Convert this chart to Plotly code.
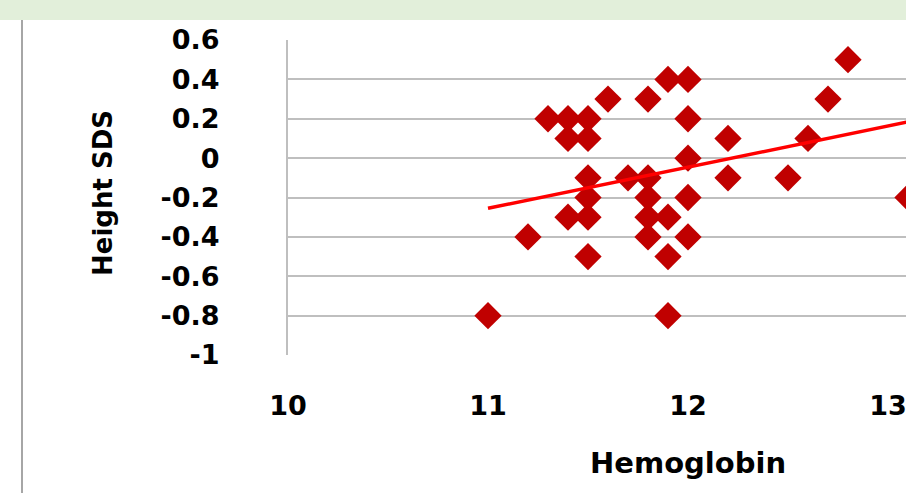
import plotly.graph_objects as go

# Data
hemoglobin = [11.0, 11.2, 11.3, 11.4, 11.5, 11.4, 11.5, 11.6, 11.5, 11.5,
              11.4, 11.5, 11.5, 11.8, 11.9, 12.0, 12.0, 12.2, 12.0, 11.7,
              11.8, 12.2, 12.5, 12.6, 12.7, 12.8, 11.8, 12.0, 11.8, 11.9,
              11.8, 12.0, 11.9, 11.9, 13.1]
height_sds = [-0.8, -0.4, 0.2, 0.2, 0.2, 0.1, 0.1, 0.3, -0.1, -0.2,
              -0.3, -0.3, -0.5, 0.3, 0.4, 0.4, 0.2, 0.1, 0.0, -0.1,
              -0.1, -0.1, -0.1, 0.1, 0.3, 0.5, -0.2, -0.2, -0.3, -0.3,
              -0.4, -0.4, -0.5, -0.8, -0.2]
trend_x = [11.0, 13.1]
trend_y = [-0.255, 0.184]
y_ticks = [0.6, 0.4, 0.2, 0, -0.2, -0.4, -0.6, -0.8, -1]
y_tick_labels = ["0.6", "0.4", "0.2", "0", "-0.2", "-0.4", "-0.6", "-0.8", "-1"]
x_ticks = [10, 11, 12, 13]
x_tick_labels = ["10", "11", "12", "13"]

W, H = 906, 493
ML, MR, MT, MB = 288, 0, 40, 138
pw, ph = W - ML - MR, H - MT - MB

FONT = "DejaVu Sans"
grid_col = "#BFBFBF"

fig = go.Figure()
fig.add_trace(go.Scatter(
    x=hemoglobin, y=height_sds, mode="markers",
    marker=dict(symbol="diamond", size=21, color="#C00000", line=dict(width=0)),
    showlegend=False, hoverinfo="x+y"))
fig.add_trace(go.Scatter(
    x=trend_x, y=trend_y, mode="lines",
    line=dict(color="#FF0000", width=3.5),
    showlegend=False, hoverinfo="skip"))

def px_x(p):
    return (p - ML) / pw

def px_y(p):
    return 1 - (p - MT) / ph

fig.update_layout(
    width=W, height=H,
    margin=dict(l=ML, r=MR, t=MT, b=MB, pad=0),
    paper_bgcolor="white", plot_bgcolor="white",
    font=dict(family=FONT, color="black"),
    xaxis=dict(range=[10, 13.09], tickvals=x_ticks, ticktext=x_tick_labels,
               showgrid=False, zeroline=False, showline=False,
               ticks="outside", ticklen=27, tickcolor="rgba(0,0,0,0)",
               ticklabeloverflow="allow",
               tickfont=dict(family=FONT, size=27, weight="bold")),
    yaxis=dict(range=[-1, 0.6], tickvals=y_ticks, ticktext=y_tick_labels,
               showgrid=True, gridcolor=grid_col, gridwidth=2,
               zeroline=False, showline=True, linecolor=grid_col, linewidth=2,
               ticks="outside", ticklen=61, tickcolor="rgba(0,0,0,0)",
               ticklabeloverflow="allow",
               tickfont=dict(family=FONT, size=27, weight="bold")),
    shapes=[
        # header band
        dict(type="rect", xref="paper", yref="paper", layer="above",
             x0=px_x(0), x1=px_x(W), y0=px_y(0), y1=px_y(20),
             fillcolor="#E2EFDA", line=dict(width=0)),
        # left frame line
        dict(type="line", xref="paper", yref="paper",
             x0=px_x(22), x1=px_x(22), y0=px_y(20), y1=px_y(H),
             line=dict(color="#A6A6A6", width=2)),
    ],
    annotations=[
        dict(text="<b>Height SDS</b>", textangle=-90, xref="paper", yref="paper",
             x=px_x(103), y=px_y(193), showarrow=False,
             font=dict(family=FONT, size=26, color="black"),
             xanchor="center", yanchor="middle"),
        dict(text="<b>Hemoglobin</b>", xref="x", yref="paper",
             x=12, y=px_y(463), showarrow=False,
             font=dict(family=FONT, size=29, color="black"),
             xanchor="center", yanchor="middle"),
    ],
)

fig.write_html("out.html",
               config={"displayModeBar": False},
               post_script="document.body.style.margin='0';"
                           "document.body.style.overflow='hidden';")
